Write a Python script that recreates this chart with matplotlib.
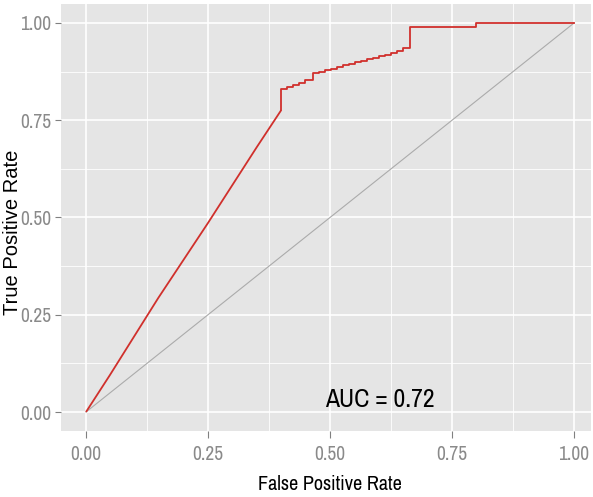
import matplotlib
matplotlib.use("Agg")
import matplotlib.pyplot as plt
from matplotlib.ticker import MultipleLocator
from matplotlib import font_manager
from matplotlib.font_manager import FontProperties

# ROC curve: near-linear rising part
roc_fpr_a = [0.000, 0.049, 0.148, 0.250, 0.350, 0.400]
roc_tpr_a = [0.000, 0.095, 0.293, 0.486, 0.681, 0.776]

# ROC curve: staircase part (steps-post)
roc_fpr_b = [0.400, 0.400, 0.412, 0.424, 0.436, 0.449, 0.465, 0.477, 0.490, 0.502,
             0.514, 0.527, 0.539, 0.551, 0.563, 0.576, 0.588, 0.600, 0.613, 0.625,
             0.637, 0.650, 0.664, 0.800, 1.000]
roc_tpr_b = [0.776, 0.830, 0.835, 0.840, 0.845, 0.853, 0.871, 0.875, 0.879, 0.883,
             0.887, 0.891, 0.895, 0.899, 0.903, 0.907, 0.911, 0.915, 0.919, 0.923,
             0.927, 0.935, 0.990, 1.000, 1.000]

diag_x = [0.0, 1.0]
diag_y = [0.0, 1.0]

ticks = [0.00, 0.25, 0.50, 0.75, 1.00]
tick_labels = ["0.00", "0.25", "0.50", "0.75", "1.00"]
auc_text = "AUC = 0.72"


def pick_condensed():
    best = None
    for f in font_manager.fontManager.ttflist:
        low = (f.name + " " + f.fname).lower()
        if "bold" in low or "italic" in low or "oblique" in low or "light" in low \
                or "thin" in low or "medium" in low or "black" in low or "mono" in low \
                or "serif" in low.replace("sans-serif", "") and "sans" not in low:
            continue
        score = None
        if "narrow" in low:
            score = 0
        elif "roboto" in low and "condensed" in low:
            score = 1
        elif "condensed" in low or f.stretch in ("condensed", "semi-condensed"):
            score = 2
        if score is not None and (best is None or score < best[0]):
            best = (score, f.fname)
    return best[1] if best else None


cond_path = pick_condensed()


def cprop(size):
    if cond_path:
        return FontProperties(fname=cond_path, size=size)
    return FontProperties(family=["Liberation Sans", "DejaVu Sans"], size=size)


fig = plt.figure(figsize=(5.93, 4.97), dpi=100)
ax = fig.add_axes([61/593, 1-431/497, (591-61)/593, (431-4)/497])
ax.set_facecolor("#e5e5e5")

ax.xaxis.set_major_locator(MultipleLocator(0.25))
ax.xaxis.set_minor_locator(MultipleLocator(0.125))
ax.yaxis.set_major_locator(MultipleLocator(0.25))
ax.yaxis.set_minor_locator(MultipleLocator(0.125))
ax.grid(which="major", color="white", linewidth=1.2)
ax.grid(which="minor", color="white", linewidth=0.6)
ax.set_axisbelow(True)
for s in ax.spines.values():
    s.set_visible(False)

ax.plot(diag_x, diag_y, color="#ababab", linewidth=0.8)
ax.plot(roc_fpr_a, roc_tpr_a, color="#d0302c", linewidth=1.3, solid_capstyle="butt")
ax.plot(roc_fpr_b, roc_tpr_b, color="#d0302c", linewidth=1.3, drawstyle="steps-post")

ax.set_xlim((61-86)/488, (591-86)/488)
ax.set_ylim(-19/389, (412-4)/389)

ax.set_xticks(ticks)
ax.set_xticklabels(tick_labels)
ax.set_yticks(ticks)
ax.set_yticklabels(tick_labels)
ax.tick_params(which="minor", length=0)
ax.tick_params(axis="x", which="major", length=5, width=0.8, color="#808080",
               labelcolor="#8a8a8a", pad=5)
ax.tick_params(axis="y", which="major", length=4, width=0.8, color="#808080",
               labelcolor="#8a8a8a", pad=3)
for lab in ax.get_xticklabels() + ax.get_yticklabels():
    lab.set_fontproperties(cprop(14))

ax.text(0.602, 0.032, auc_text, ha="center", va="center",
        fontproperties=cprop(18.5), color="black")

fig.text(330/593, 1-484/497, "False Positive Rate", ha="center", va="center",
         fontproperties=cprop(14.5), color="black")
fig.text(13/593, 1-232/497, "True Positive Rate", ha="center", va="center",
         rotation=90, fontsize=14.5,
         family=["Liberation Sans", "DejaVu Sans"], color="black")

fig.savefig("out.png", dpi=100)
